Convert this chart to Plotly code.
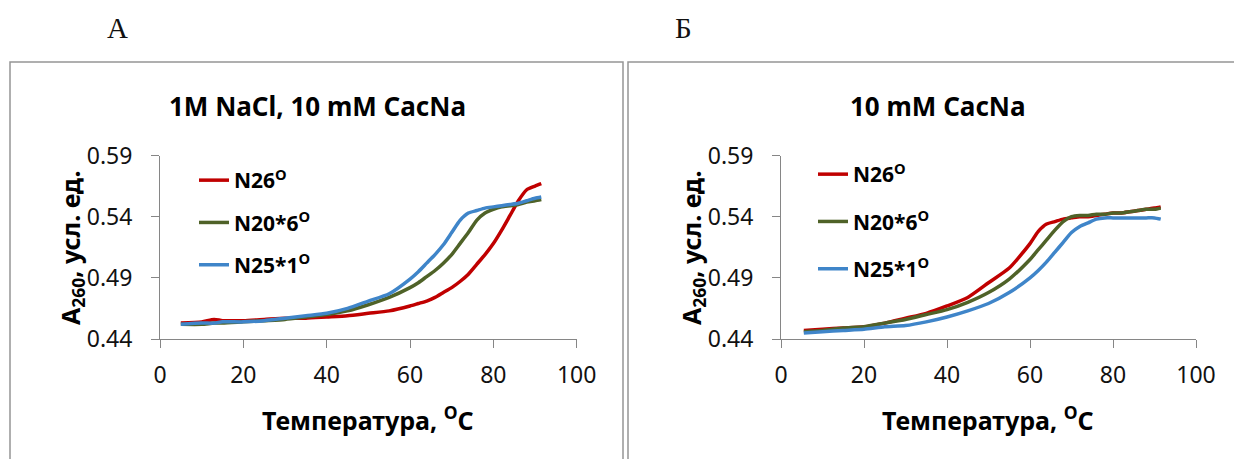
import plotly.graph_objects as go

W, H = 1234, 459

# ---------------- data ----------------
TEMP_A = [5, 10, 13, 15, 20, 25, 30, 35, 40, 45, 50, 55, 60, 62, 64, 66, 68, 70, 72, 74,
          76, 78, 80, 82, 84, 86, 88, 90, 91.5]
A_N26 = [0.453, 0.454, 0.456, 0.455, 0.455, 0.456, 0.457, 0.457, 0.458, 0.459, 0.461, 0.463,
         0.467, 0.469, 0.471, 0.474, 0.478, 0.482, 0.487, 0.493, 0.501, 0.509, 0.518, 0.529,
         0.541, 0.553, 0.562, 0.565, 0.567]
A_N20_6 = [0.452, 0.452, 0.453, 0.453, 0.454, 0.455, 0.456, 0.458, 0.460, 0.463, 0.468, 0.474,
           0.482, 0.486, 0.491, 0.496, 0.502, 0.509, 0.518, 0.527, 0.537, 0.543, 0.546, 0.548,
           0.549, 0.550, 0.552, 0.553, 0.554]
A_N25_1 = [0.452, 0.453, 0.453, 0.454, 0.454, 0.455, 0.457, 0.459, 0.461, 0.465, 0.471, 0.477,
           0.489, 0.495, 0.502, 0.509, 0.517, 0.527, 0.537, 0.543, 0.545, 0.547, 0.548, 0.549,
           0.550, 0.551, 0.553, 0.555, 0.556]

TEMP_B = [5.5, 10, 15, 20, 25, 30, 35, 40, 45, 50, 55, 60, 62, 64, 66, 68, 70, 72, 74, 76,
          78, 80, 82, 84, 86, 88, 90, 91.5]
B_N26 = [0.447, 0.448, 0.449, 0.450, 0.453, 0.457, 0.461, 0.467, 0.474, 0.486, 0.498, 0.518,
         0.528, 0.534, 0.536, 0.538, 0.539, 0.540, 0.540, 0.541, 0.542, 0.543, 0.543, 0.544,
         0.545, 0.546, 0.547, 0.548]
B_N20_6 = [0.446, 0.447, 0.449, 0.450, 0.453, 0.456, 0.460, 0.464, 0.470, 0.478, 0.489, 0.505,
           0.513, 0.521, 0.529, 0.536, 0.540, 0.541, 0.541, 0.542, 0.542, 0.543, 0.543, 0.544,
           0.545, 0.546, 0.546, 0.547]
B_N25_1 = [0.445, 0.446, 0.447, 0.448, 0.450, 0.451, 0.454, 0.458, 0.463, 0.469, 0.478, 0.490,
           0.496, 0.503, 0.511, 0.519, 0.527, 0.532, 0.535, 0.538, 0.539, 0.539, 0.539, 0.539,
           0.539, 0.539, 0.539, 0.538]

SERIES_NAMES = ["N26<sup>O</sup>", "N20*6<sup>O</sup>", "N25*1<sup>O</sup>"]
COLORS = ["#C00000", "#4F6228", "#3F85C9"]
PANEL_TITLES = ["1M NaCl, 10 mM CacNa", "10 mM CacNa"]
PANEL_LETTERS = ["А", "Б"]
X_TITLE = "Температура, <sup>O</sup>C"
Y_TITLE = "A<sub>260</sub>, усл. ед."
X_TICKS = [0, 20, 40, 60, 80, 100]
Y_TICKS = [0.44, 0.49, 0.54, 0.59]

FONT = "Noto Sans"
AXIS_GRAY = "#868686"


def px_x(p):
    return p / W


def px_y(p):
    return 1 - p / H


fig = go.Figure()

panels = [
    (TEMP_A, [A_N26, A_N20_6, A_N25_1], "x", "y", "legend"),
    (TEMP_B, [B_N26, B_N20_6, B_N25_1], "x2", "y2", "legend2"),
]
for temps, series, xa, ya, leg in panels:
    for i, vals in enumerate(series):
        fig.add_trace(go.Scatter(
            x=temps, y=vals, mode="lines", name=SERIES_NAMES[i],
            line=dict(color=COLORS[i], width=3.5, shape="spline", smoothing=0.6),
            xaxis=xa, yaxis=ya, legend=leg, legendgroup=leg + str(i),
        ))

axis_common = dict(
    showgrid=False, zeroline=False, showline=True, linecolor=AXIS_GRAY, linewidth=1,
    ticks="outside", ticklen=8, tickcolor=AXIS_GRAY, automargin=False,
    tickfont=dict(family=FONT, size=23, color="#111111"),
)
ydom = [px_y(339), px_y(155.5)]
legend_font = dict(family=FONT, size=21, color="black", weight="bold")

fig.update_layout(
    template="none",
    width=W, height=H, margin=dict(l=0, r=0, t=0, b=0, pad=0, autoexpand=False),
    paper_bgcolor="white", plot_bgcolor="white",
    xaxis=dict(domain=[px_x(160), px_x(576.7)], range=[0, 100], tickvals=X_TICKS,
               anchor="y", ticklabelstandoff=7, **axis_common),
    yaxis=dict(domain=ydom, range=[0.44, 0.59], tickvals=Y_TICKS, tickformat=".2f",
               anchor="x", ticklabelstandoff=14, **axis_common),
    xaxis2=dict(domain=[px_x(781), px_x(1196)], range=[0, 100], tickvals=X_TICKS,
                anchor="y2", ticklabelstandoff=7, **axis_common),
    yaxis2=dict(domain=ydom, range=[0.44, 0.59], tickvals=Y_TICKS, tickformat=".2f",
                anchor="x2", ticklabelstandoff=14, **axis_common),
    legend=dict(x=px_x(194), y=px_y(160), xanchor="left", yanchor="top", font=legend_font,
                bgcolor="rgba(0,0,0,0)", borderwidth=0, tracegroupgap=12),
    legend2=dict(x=px_x(813), y=px_y(154), xanchor="left", yanchor="top", font=legend_font,
                 bgcolor="rgba(0,0,0,0)", borderwidth=0, tracegroupgap=17),
    showlegend=True,
)

# chart-area frames
frame_style = dict(type="rect", xref="paper", yref="paper",
                   line=dict(color="#959595", width=1.5), fillcolor="rgba(0,0,0,0)", layer="below")
fig.add_shape(x0=px_x(10), x1=px_x(623), y0=-0.2, y1=px_y(62), **frame_style)
fig.add_shape(x0=px_x(628), x1=px_x(1260), y0=-0.2, y1=px_y(62), **frame_style)

ann = []
centered = dict(xref="paper", yref="paper", showarrow=False, xanchor="center", yanchor="middle")
# panel letters
for txt, cx in zip(PANEL_LETTERS, [117, 683]):
    ann.append(dict(text=txt, x=px_x(cx), y=px_y(28),
                    font=dict(family="Liberation Serif", size=29, color="#111"), **centered))
# titles
for txt, cx in zip(PANEL_TITLES, [317, 938]):
    ann.append(dict(text=txt, x=px_x(cx), y=px_y(106),
                    font=dict(family=FONT, size=26, color="black", weight="bold"), **centered))
# axis titles
for cx in [368, 988]:
    ann.append(dict(text=X_TITLE, x=px_x(cx), y=px_y(418),
                    font=dict(family=FONT, size=25, color="black", weight="bold"), **centered))
for cx in [71, 692]:
    ann.append(dict(text=Y_TITLE, x=px_x(cx), y=px_y(248), textangle=-90,
                    font=dict(family=FONT, size=25, color="black", weight="bold"), **centered))
fig.update_layout(annotations=ann)

fig.write_html(
    "out.html",
    config={"displayModeBar": False},
    post_script="document.body.style.margin='0';document.body.style.overflow='hidden';",
)
